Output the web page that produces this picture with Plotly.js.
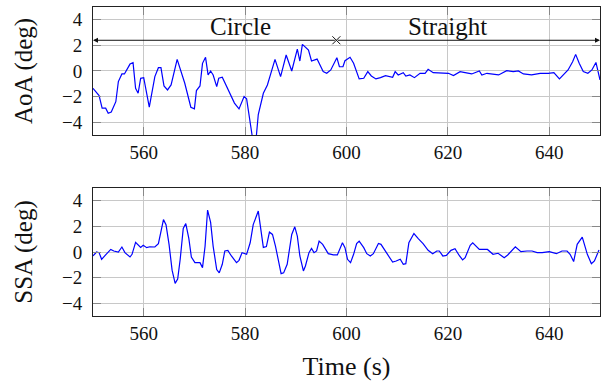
<!DOCTYPE html>
<html>
<head>
<meta charset="utf-8">
<script src="https://cdn.plot.ly/plotly-3.0.1.min.js"></script>
<style>html,body{margin:0;padding:0;background:#fff;}#chart{width:603px;height:383px;}</style>
</head>
<body>
<div id="chart"></div>
<script>
const timeAoA = [550.0,551.2,551.8,552.5,553.0,553.6,554.5,555.0,555.7,556.2,557.3,557.9,558.4,558.9,559.4,560.0,561.1,562.2,562.9,563.4,564.0,564.7,565.4,566.6,568.1,569.3,570.0,570.4,571.1,571.6,572.2,572.7,573.2,573.7,574.4,574.8,575.5,577.0,577.9,578.8,579.8,580.3,581.0,581.6,582.1,582.6,583.6,584.4,585.9,587.0,588.1,589.2,590.3,590.8,591.3,592.5,593.1,594.2,595.4,596.1,596.9,598.1,598.6,599.3,599.7,600.7,601.4,602.5,603.4,604.2,604.9,605.8,606.7,607.7,609.1,609.6,610.2,611.2,611.7,612.5,613.4,614.5,615.5,616.1,617.1,617.8,620.1,621.1,622.4,623.4,624.7,626.2,626.7,627.7,628.7,630.0,631.6,632.9,633.9,634.9,636.5,638.2,639.8,640.9,642.0,643.7,644.6,645.2,645.9,646.7,647.6,648.4,649.2,649.6,650.0];
const aoa = [-1.35,-1.92,-2.9,-2.9,-3.3,-3.2,-2.4,-0.83,-0.23,-0.23,0.54,0.65,-1.35,-1.74,-0.57,-0.52,-2.83,-0.44,0.26,0.26,-1.17,-1.48,-1.09,0.91,-0.96,-2.83,-2.96,-1.53,-1.17,0.6,1.07,-0.31,0.0,-0.31,-1.22,-0.57,-0.49,-1.74,-2.51,-2.96,-2.0,-2.18,-3.8,-5.6,-5.6,-3.4,-1.74,-1.09,0.91,-0.44,1.25,0.0,1.71,0.78,2.08,1.63,0.78,0.93,-0.05,-0.18,0.08,1.04,0.33,0.33,0.8,1.07,0.6,-0.62,-0.57,-0.05,-0.39,-0.62,-0.52,-0.36,-0.49,-0.05,-0.31,-0.13,-0.39,-0.31,-0.52,-0.18,-0.18,0.13,-0.13,-0.13,-0.18,-0.36,-0.05,-0.13,-0.23,0.0,-0.31,-0.18,-0.23,-0.31,0.03,-0.05,0.0,-0.23,-0.31,-0.18,-0.18,-0.13,-0.62,0.08,0.72,1.3,0.6,-0.05,-0.18,0.08,0.67,-0.05,-0.7];

const timeSSA = [550.0,550.7,551.2,551.7,552.4,553.5,554.1,555.0,555.7,556.3,557.3,557.7,558.4,559.4,559.9,560.6,561.2,562.2,562.9,563.3,563.9,564.4,565.0,565.6,566.2,566.7,567.2,567.8,568.3,568.9,569.4,570.1,571.1,571.6,572.1,572.6,573.2,573.7,574.4,574.9,575.5,576.0,576.6,577.3,578.3,578.8,579.4,580.3,581.0,581.6,582.6,583.6,584.2,584.8,585.4,586.0,587.1,587.6,588.3,589.2,589.8,590.3,590.8,591.5,591.9,592.6,593.1,593.6,594.1,594.6,595.3,596.4,597.4,598.2,599.2,599.7,600.2,600.8,601.4,602.0,602.5,603.4,604.0,604.7,605.3,606.3,606.8,608.0,609.1,609.8,610.6,611.2,611.7,612.3,613.3,614.2,615.1,616.1,617.0,617.8,618.3,619.0,619.7,620.6,621.4,622.3,622.9,623.4,624.4,624.9,626.2,627.0,627.8,628.9,629.9,631.1,631.8,633.3,634.4,635.6,636.6,637.6,638.6,640.0,641.4,642.5,643.5,644.1,644.8,645.5,646.5,647.5,648.3,648.9,649.8];
const ssa = [-0.31,0.0,-0.05,-0.57,-0.26,0.2,0.08,0.0,0.39,-0.05,-0.39,-0.18,0.75,0.36,0.52,0.34,0.41,0.39,0.65,1.37,2.53,2.14,0.6,-1.42,-2.45,-2.12,-0.57,1.84,2.22,1.06,-0.39,-0.83,-0.83,-1.22,0.44,3.28,2.32,0.44,-1.37,-1.63,-0.96,0.08,0.13,-0.31,-0.83,-0.65,-0.05,-0.18,0.72,2.14,3.2,0.36,0.42,1.55,1.37,0.44,-1.69,-1.63,-0.96,1.37,1.97,1.24,-0.31,-1.48,-1.09,-0.05,0.28,-0.05,0.08,0.85,0.6,-0.13,-0.23,-0.23,0.72,0.34,-0.57,-0.83,-0.18,0.65,0.85,0.34,-0.13,-0.31,-0.13,0.67,0.6,-0.13,-0.78,-0.7,-0.57,-0.96,-0.91,0.72,1.44,1.03,0.65,0.13,-0.13,0.08,0.08,-0.31,-0.26,0.13,0.26,-0.31,-0.62,-0.44,0.52,0.72,0.2,0.2,0.2,-0.18,-0.1,-0.44,-0.23,0.41,0.03,0.08,0.08,-0.05,-0.05,0.03,-0.13,0.08,0.08,-0.18,-0.75,0.6,1.16,-0.18,-0.91,-0.7,0.15];

const xTicks = [560, 580, 600, 620, 640];
const yTicks = [-4, -2, 0, 2, 4];
const phaseBounds = [550, 598, 650];
const phaseNames = ['Circle', 'Straight'];
const phaseLabelX = [579, 620];
const phaseArrowY = 2.4;

const serif = 'Liberation Serif';

function xAxis(anchor) {
  return {
    anchor: anchor, range: [550, 650], tickmode: 'array', tickvals: xTicks,
    showgrid: true, gridcolor: '#c8c8c8', gridwidth: 1,
    showline: true, linecolor: '#222', linewidth: 1, mirror: 'ticks',
    ticks: 'inside', ticklen: 8, tickcolor: '#888', tickwidth: 1,
    zeroline: false, tickfont: {family: serif, size: 19, color: '#111'}
  };
}
function yAxis(anchor, domain, title) {
  return {
    anchor: anchor, domain: domain, range: [-5, 5], tickmode: 'array', tickvals: yTicks,
    showgrid: true, gridcolor: '#c8c8c8', gridwidth: 1,
    showline: true, linecolor: '#222', linewidth: 1, mirror: 'ticks',
    ticks: 'inside', ticklen: 8, tickcolor: '#888', tickwidth: 1,
    zeroline: false, tickfont: {family: serif, size: 19, color: '#111'},
    ticklabelstandoff: 6, automargin: true,
    title: {text: title, font: {family: serif, size: 25, color: '#111'}, standoff: 22}
  };
}

const xa2 = xAxis('y2');
xa2.automargin = true;
xa2.title = {text: 'Time (s)', font: {family: serif, size: 26, color: '#111'}, standoff: 14};

const traces = [
  {x: timeAoA, y: aoa, xaxis: 'x', yaxis: 'y', mode: 'lines', line: {color: '#0000ff', width: 1.2}, hoverinfo: 'skip'},
  {x: timeSSA, y: ssa, xaxis: 'x2', yaxis: 'y2', mode: 'lines', line: {color: '#0000ff', width: 1.2}, hoverinfo: 'skip'},
  {x: [phaseBounds[1]], y: [phaseArrowY], xaxis: 'x', yaxis: 'y', mode: 'markers',
   marker: {symbol: 'x-thin-open', size: 8, color: '#111', line: {color: '#111', width: 1}}, hoverinfo: 'skip', cliponaxis: false}
];

const annotations = [
  {x: phaseBounds[0], y: phaseArrowY, ax: phaseBounds[1], ay: phaseArrowY, xref: 'x', yref: 'y', axref: 'x', ayref: 'y',
   showarrow: true, arrowhead: 2, arrowsize: 1, arrowwidth: 1, arrowcolor: '#111', text: ''},
  {x: phaseBounds[2], y: phaseArrowY, ax: phaseBounds[1], ay: phaseArrowY, xref: 'x', yref: 'y', axref: 'x', ayref: 'y',
   showarrow: true, arrowhead: 2, arrowsize: 1, arrowwidth: 1, arrowcolor: '#111', text: ''},
  {x: phaseLabelX[0], y: phaseArrowY, xref: 'x', yref: 'y', text: phaseNames[0], showarrow: false, yanchor: 'bottom', yshift: -2,
   font: {family: serif, size: 25, color: '#111'}},
  {x: phaseLabelX[1], y: phaseArrowY, xref: 'x', yref: 'y', text: phaseNames[1], showarrow: false, yanchor: 'bottom', yshift: -2,
   font: {family: serif, size: 25, color: '#111'}}
];

const layout = {
  width: 603, height: 383,
  margin: {l: 93, r: 3, t: 7, b: 67},
  paper_bgcolor: '#fff', plot_bgcolor: '#fff',
  showlegend: false,
  font: {family: serif},
  xaxis: xAxis('y'),
  yaxis: yAxis('x', [0.5858, 1], 'AoA (deg)'),
  xaxis2: xa2,
  yaxis2: yAxis('x2', [0, 0.4142], 'SSA (deg)'),
  annotations: annotations
};

Plotly.newPlot('chart', traces, layout, {staticPlot: true, displayModeBar: false});
</script>
</body>
</html>
